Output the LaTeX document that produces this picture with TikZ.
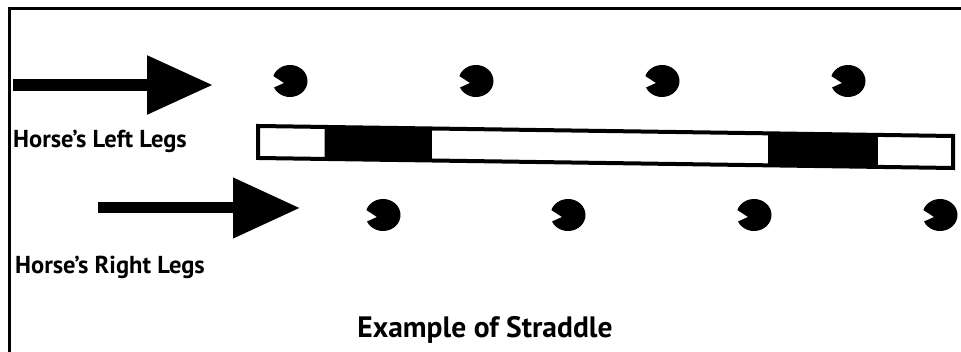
\documentclass[tikz,border=0pt]{standalone}
\usepackage{fontspec}
\setmainfont{PT Sans}
\usepackage{tikz}
\usetikzlibrary{arrows.meta,calc}

\begin{document}
\begin{tikzpicture}[x=1pt, y=1pt, every node/.style={font=\bfseries\fontsize{24.5}{28}\selectfont, inner sep=0pt}]
\tikzstyle{frameline}=[line width=3pt]
\tikzstyle{bigarrow}=[line width=12pt, -{Triangle[length=66pt, width=56pt]}]
\tikzstyle{barline}=[line width=4pt, line join=miter]
\tikzset{hoofprint/.pic={\fill (-6,-2) -- (204:17.5 and 16) arc[start angle=204, end angle=522, x radius=17.5, y radius=16] -- cycle;}}
\useasboundingbox (0,0) rectangle (961,352);
% frame (top and left edges only)
\coordinate (fcorner) at (9,343);
\draw[frameline] (961,343) -- (fcorner) -- (9,0);
% arrows
\coordinate (lstart) at (13,267);
\coordinate (ltip) at (213,267);
\coordinate (rstart) at (98,144);
\coordinate (rtip) at (300,144);
\draw[bigarrow] (lstart) -- (ltip);
\draw[bigarrow, line width=11pt, -{Triangle[length=67pt, width=58pt]}] (rstart) -- (rtip);
% hoof prints
\foreach \x in {290,476,662,848} \pic at (\x,271) {hoofprint};
\foreach \x in {383,568,754,940} \pic at (\x,137) {hoofprint};
% straddle bar
\coordinate (tl) at (258,226);
\coordinate (tr) at (953,216);
\coordinate (br) at (953,184);
\coordinate (bl) at (258,194);
\fill ($(tl)!0.096!(tr)$) -- ($(tl)!0.250!(tr)$) -- ($(bl)!0.250!(br)$) -- ($(bl)!0.096!(br)$) -- cycle;
\fill ($(tl)!0.734!(tr)$) -- ($(tl)!0.892!(tr)$) -- ($(bl)!0.892!(br)$) -- ($(bl)!0.734!(br)$) -- cycle;
\draw[barline] (tl) -- (tr) -- (br) -- (bl) -- cycle;
% labels
\node[anchor=base west] (leftlabel) at (13,204) {Horse’s Left Legs};
\node[anchor=base west] (rightlabel) at (15,78) {Horse’s Right Legs};
\node[anchor=base, font=\bfseries\fontsize{29.5}{34}\selectfont] (title) at (485,14) {Example of Straddle};
\end{tikzpicture}
\end{document}
